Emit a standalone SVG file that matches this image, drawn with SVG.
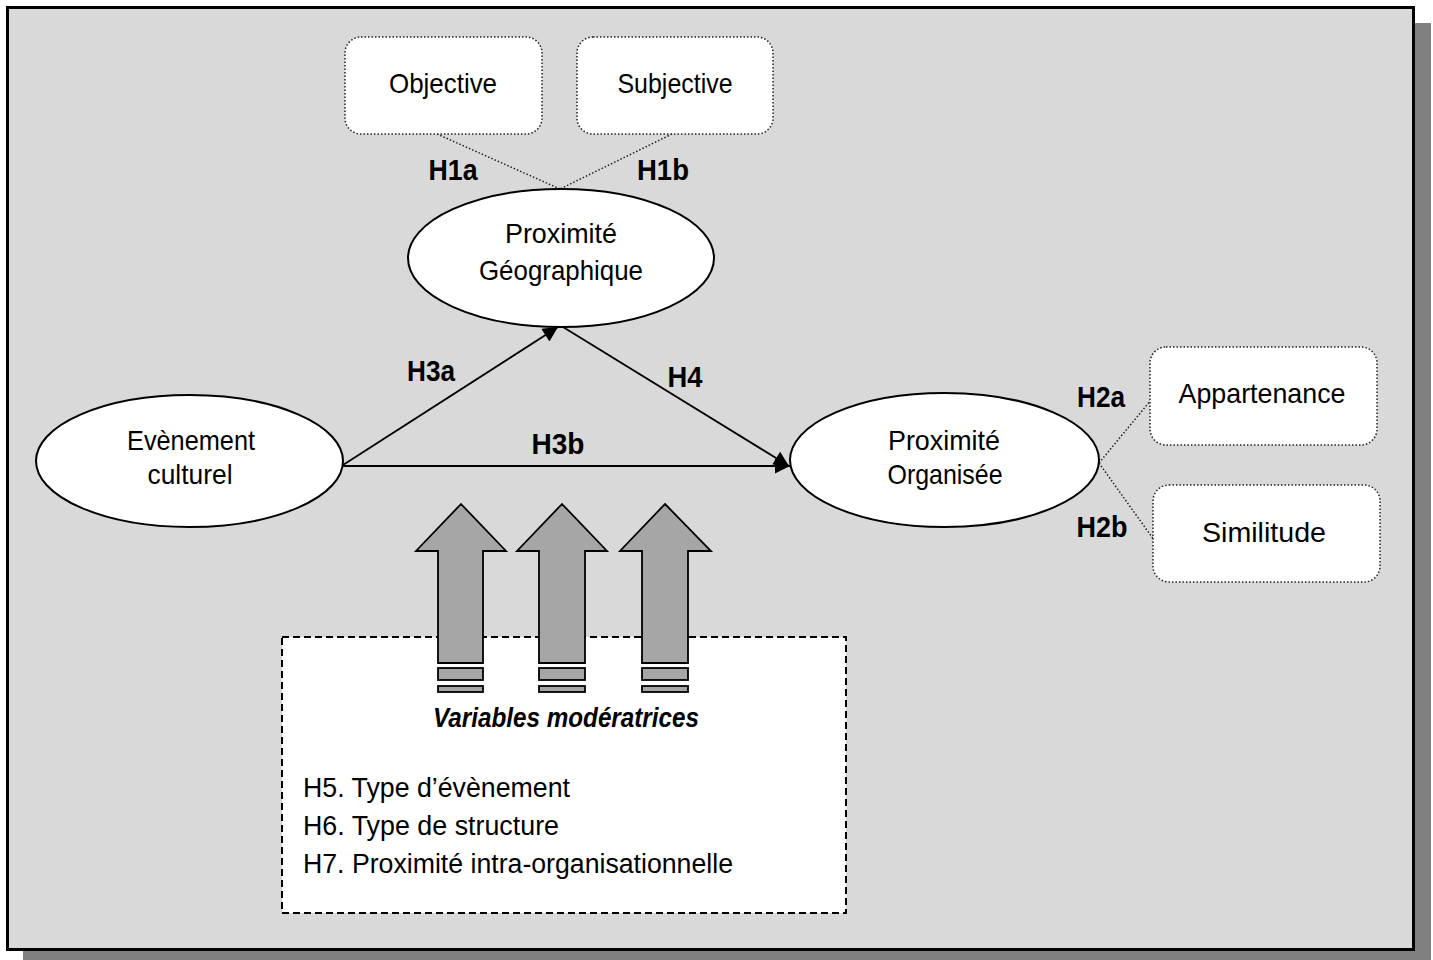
<svg xmlns="http://www.w3.org/2000/svg" width="1433" height="960" viewBox="0 0 1433 960">
  <style>
    .lbl { font-family: "Liberation Sans", Arial, sans-serif; font-size: 28px; fill: #000; text-anchor: middle; }
    .hyp { font-family: "Liberation Sans", Arial, sans-serif; font-size: 29px; font-weight: bold; fill: #000; text-anchor: middle; }
    .item { font-family: "Liberation Sans", Arial, sans-serif; font-size: 27px; fill: #000; }
    .ell { fill: #fff; stroke: #000; stroke-width: 2; }
    .box { fill: #fff; stroke: #222; stroke-width: 1.5; stroke-dasharray: 1.5 2; }
    .link { stroke: #222; stroke-width: 1.5; stroke-dasharray: 1.5 2; fill: none; }
    .edge { stroke: #000; stroke-width: 1.8; fill: none; }
    .up { fill: #a6a6a6; stroke: #000; stroke-width: 1.8; }
  </style>
  <defs>
    <marker id="head" viewBox="0 0 10 10" refX="10" refY="5" markerWidth="17" markerHeight="15" markerUnits="userSpaceOnUse" orient="auto">
      <path d="M0,0 L10,5 L0,10 Z" fill="#000"/>
    </marker>
  </defs>

  <!-- page frame with drop shadow -->
  <rect x="23" y="23" width="1408" height="943" fill="#808080"/>
  <rect x="7.5" y="7.5" width="1406" height="942" fill="#d9d9d9" stroke="#000" stroke-width="3"/>

  <!-- moderating variables panel -->
  <g id="moderators">
    <rect x="282" y="637" width="564" height="276" fill="#fff" stroke="#000" stroke-width="2" stroke-dasharray="7 4"/>
    <text x="566" y="727" class="lbl" font-weight="bold" font-style="italic" textLength="266" lengthAdjust="spacingAndGlyphs">Variables modératrices</text>
    <text x="303" y="797" class="item" textLength="267" lengthAdjust="spacingAndGlyphs">H5. Type d’évènement</text>
    <text x="303" y="835" class="item" textLength="256" lengthAdjust="spacingAndGlyphs">H6. Type de structure</text>
    <text x="303" y="873" class="item" textLength="430" lengthAdjust="spacingAndGlyphs">H7. Proximité intra-organisationnelle</text>
  </g>

  <!-- block arrows from the moderators -->
  <g id="moderator-arrows">
    <path class="up" d="M461,504 L506,551 L483,551 L483,663 L438,663 L438,551 L416,551 Z"/>
    <rect class="up" x="438" y="668" width="45" height="12"/>
    <rect class="up" x="438" y="686" width="45" height="6"/>
    <path class="up" d="M562,504 L607,551 L585,551 L585,663 L539,663 L539,551 L517,551 Z"/>
    <rect class="up" x="539" y="668" width="46" height="12"/>
    <rect class="up" x="539" y="686" width="46" height="6"/>
    <path class="up" d="M665,504 L711,551 L688,551 L688,663 L642,663 L642,551 L620,551 Z"/>
    <rect class="up" x="642" y="668" width="46" height="12"/>
    <rect class="up" x="642" y="686" width="46" height="6"/>
  </g>

  <!-- connectors -->
  <g id="connectors">
    <line class="link" x1="437" y1="134" x2="560" y2="189"/>
    <line class="link" x1="672" y1="134" x2="560" y2="189"/>
    <line class="link" x1="1099" y1="463" x2="1151" y2="400"/>
    <line class="link" x1="1099" y1="463" x2="1154" y2="540"/>
    <line class="edge" x1="343" y1="465" x2="558" y2="327" marker-end="url(#head)"/>
    <line class="edge" x1="563" y1="327" x2="789" y2="466" marker-end="url(#head)"/>
    <line class="edge" x1="343" y1="466" x2="790" y2="466" stroke-width="2.6" marker-end="url(#head)"/>
    <text x="453" y="180" class="hyp" textLength="49" lengthAdjust="spacingAndGlyphs">H1a</text>
    <text x="663" y="180" class="hyp" textLength="52" lengthAdjust="spacingAndGlyphs">H1b</text>
    <text x="431" y="381" class="hyp" textLength="48" lengthAdjust="spacingAndGlyphs">H3a</text>
    <text x="685" y="387" class="hyp" textLength="35" lengthAdjust="spacingAndGlyphs">H4</text>
    <text x="558" y="454" class="hyp" textLength="53" lengthAdjust="spacingAndGlyphs">H3b</text>
    <text x="1101" y="407" class="hyp" textLength="48" lengthAdjust="spacingAndGlyphs">H2a</text>
    <text x="1102" y="537" class="hyp" textLength="51" lengthAdjust="spacingAndGlyphs">H2b</text>
  </g>

  <g id="objective">
    <rect class="box" x="345" y="37" width="197" height="97" rx="16"/>
    <text x="443" y="93" class="lbl" textLength="108" lengthAdjust="spacingAndGlyphs">Objective</text>
  </g>
  <g id="subjective">
    <rect class="box" x="577" y="37" width="196" height="97" rx="16"/>
    <text x="675" y="93" class="lbl" textLength="115" lengthAdjust="spacingAndGlyphs">Subjective</text>
  </g>
  <g id="proximite-geographique">
    <ellipse class="ell" cx="561" cy="258" rx="153" ry="69"/>
    <text x="561" y="243" class="lbl" textLength="112" lengthAdjust="spacingAndGlyphs">Proximité</text>
    <text x="561" y="280" class="lbl" textLength="164" lengthAdjust="spacingAndGlyphs">Géographique</text>
  </g>
  <g id="evenement-culturel">
    <ellipse class="ell" cx="189.5" cy="461" rx="153.5" ry="66"/>
    <text x="191" y="450" class="lbl" textLength="128" lengthAdjust="spacingAndGlyphs">Evènement</text>
    <text x="190" y="484" class="lbl" textLength="85" lengthAdjust="spacingAndGlyphs">culturel</text>
  </g>
  <g id="proximite-organisee">
    <ellipse class="ell" cx="944.5" cy="460" rx="154.5" ry="67"/>
    <text x="944" y="450" class="lbl" textLength="112" lengthAdjust="spacingAndGlyphs">Proximité</text>
    <text x="945" y="484" class="lbl" textLength="115" lengthAdjust="spacingAndGlyphs">Organisée</text>
  </g>
  <g id="appartenance">
    <rect class="box" x="1150" y="347" width="227" height="98" rx="16"/>
    <text x="1262" y="403" class="lbl" textLength="167" lengthAdjust="spacingAndGlyphs">Appartenance</text>
  </g>
  <g id="similitude">
    <rect class="box" x="1153" y="485" width="227" height="97" rx="16"/>
    <text x="1264" y="542" class="lbl" textLength="124" lengthAdjust="spacingAndGlyphs">Similitude</text>
  </g>
</svg>
